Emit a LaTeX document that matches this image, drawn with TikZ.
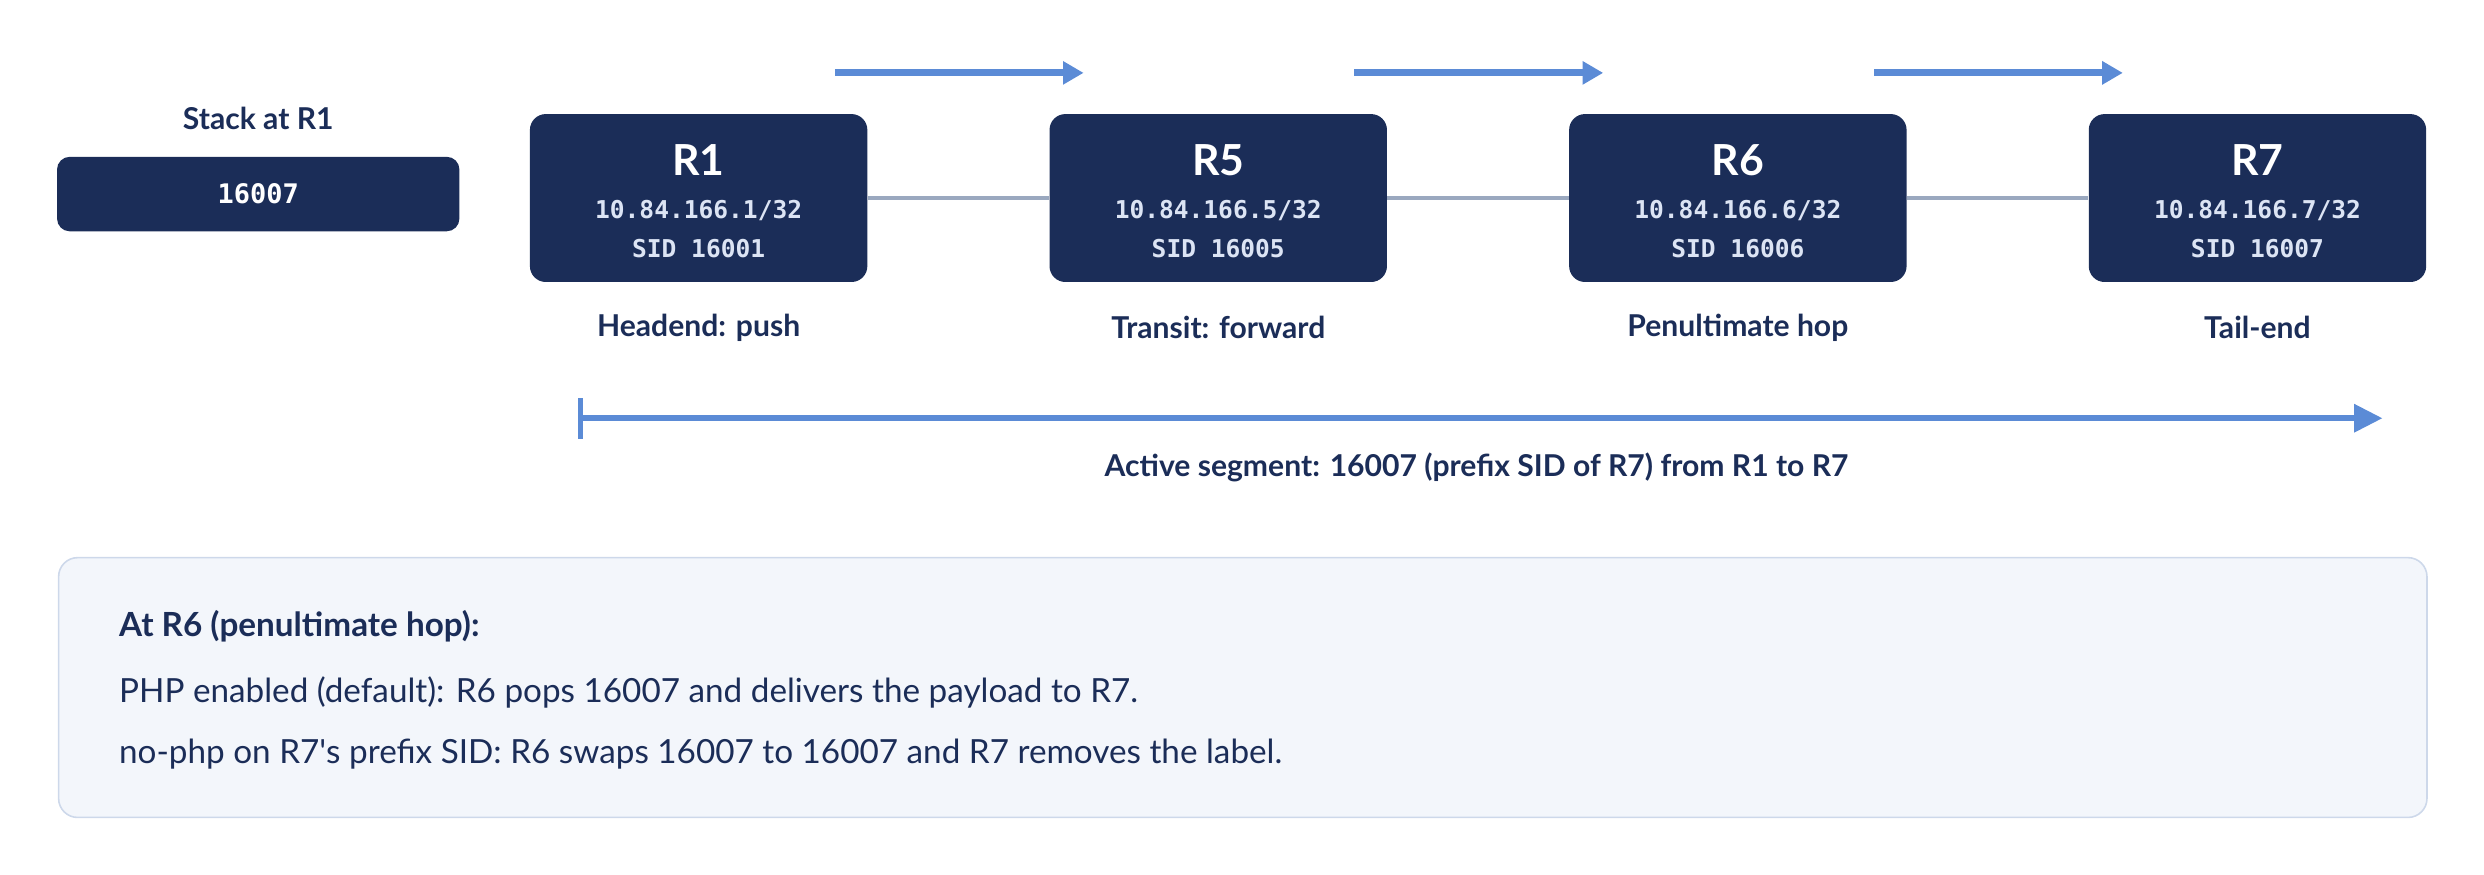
\documentclass[tikz,border=0pt]{standalone}
\usepackage{fontspec}
\setmainfont{Lato}
\setmonofont{DejaVu Sans Mono}
\usetikzlibrary{arrows.meta}
\definecolor{navy}{HTML}{1B2D58}
\definecolor{lt}{HTML}{DCE4F4}
\definecolor{blu}{HTML}{5B8BD6}
\definecolor{gry}{HTML}{9AA8BF}
\definecolor{bg}{HTML}{F3F6FB}
\definecolor{bd}{HTML}{CDD8EA}
\begin{document}
\begin{tikzpicture}[x=1pt,y=-1pt,
  rt/.style={fill=navy,rounded corners=10pt,minimum width=213pt,minimum height=106pt,inner sep=0},
  lab/.style={text=navy,font=\fontsize{19}{22}\selectfont\bfseries},
  mono/.style={text=lt,font=\ttfamily\bfseries\fontsize{15.5}{17}\selectfont},
  mv/.style={blu,line width=4.5pt,-{Triangle[length=13pt,width=14pt]}},
  lk/.style={gry,line width=3pt},
  bt/.style={anchor=west,inner sep=0,text=navy,font=\fontsize{21}{25}\selectfont}]
\useasboundingbox (0,0) rectangle (1568,552);
\node[fill=navy,rounded corners=8pt,minimum width=254pt,minimum height=47pt] (st) at (163,122.5) {};
\node[text=white,font=\ttfamily\bfseries\fontsize{17}{19}\selectfont] (stt) at (st) {16007};
\node[lab] (stl) at (163,75) {Stack at R1};
\foreach \n/\x/\s in {R1/441/1,R5/769/5,R6/1097/6,R7/1425/7}{
  \node[rt] (\n) at (\x,125) {};
  \node[text=white,font=\bfseries\fontsize{27}{31}\selectfont] (\n t) at (\x,101) {\n};
  \node[mono] (\n a) at (\x,133) {10.84.166.\s/32};
  \node[mono] (\n b) at (\x,157) {SID 1600\s};
}
\draw[lk] (R1.east) -- (R5.west);
\draw[lk] (R5.east) -- (R6.west);
\draw[lk] (R6.east) -- (R7.west);
\node[lab] (l1) at (441,207) {Headend: push};
\node[lab] (l5) at (769,207) {Transit: forward};
\node[lab] (l6) at (1097,207) {Penultimate hop};
\node[lab] (l7) at (1425,207) {Tail-end};
\coordinate (a1) at (527,46); \coordinate (b1) at (684,46);
\coordinate (a2) at (855,46); \coordinate (b2) at (1012,46);
\coordinate (a3) at (1183,46); \coordinate (b3) at (1340,46);
\draw[mv] (a1) -- (b1); \draw[mv] (a2) -- (b2); \draw[mv] (a3) -- (b3);
\coordinate (s0) at (365,264); \coordinate (s1) at (1504,264);
\draw[blu,line width=4pt,{Bar[width=26pt,line width=3pt]}-{Triangle[length=18pt,width=17pt]}] (s0) -- (s1);
\node[lab] (sl) at (932,295) {Active segment: 16007 (prefix SID of R7) from R1 to R7};
\node[fill=bg,draw=bd,line width=1pt,rounded corners=12pt,minimum width=1495pt,minimum height=164pt] (nb) at (784.5,434) {};
\node[bt,font=\fontsize{21}{25}\selectfont\bfseries] (n1) at (75,395) {At R6 (penultimate hop):};
\node[bt] (n2) at (75,437) {PHP enabled (default): R6 pops 16007 and delivers the payload to R7.};
\node[bt] (n3) at (75,476) {no-php on R7\textquotesingle s prefix SID: R6 swaps 16007 to 16007 and R7 removes the label.};
\end{tikzpicture}
\end{document}
